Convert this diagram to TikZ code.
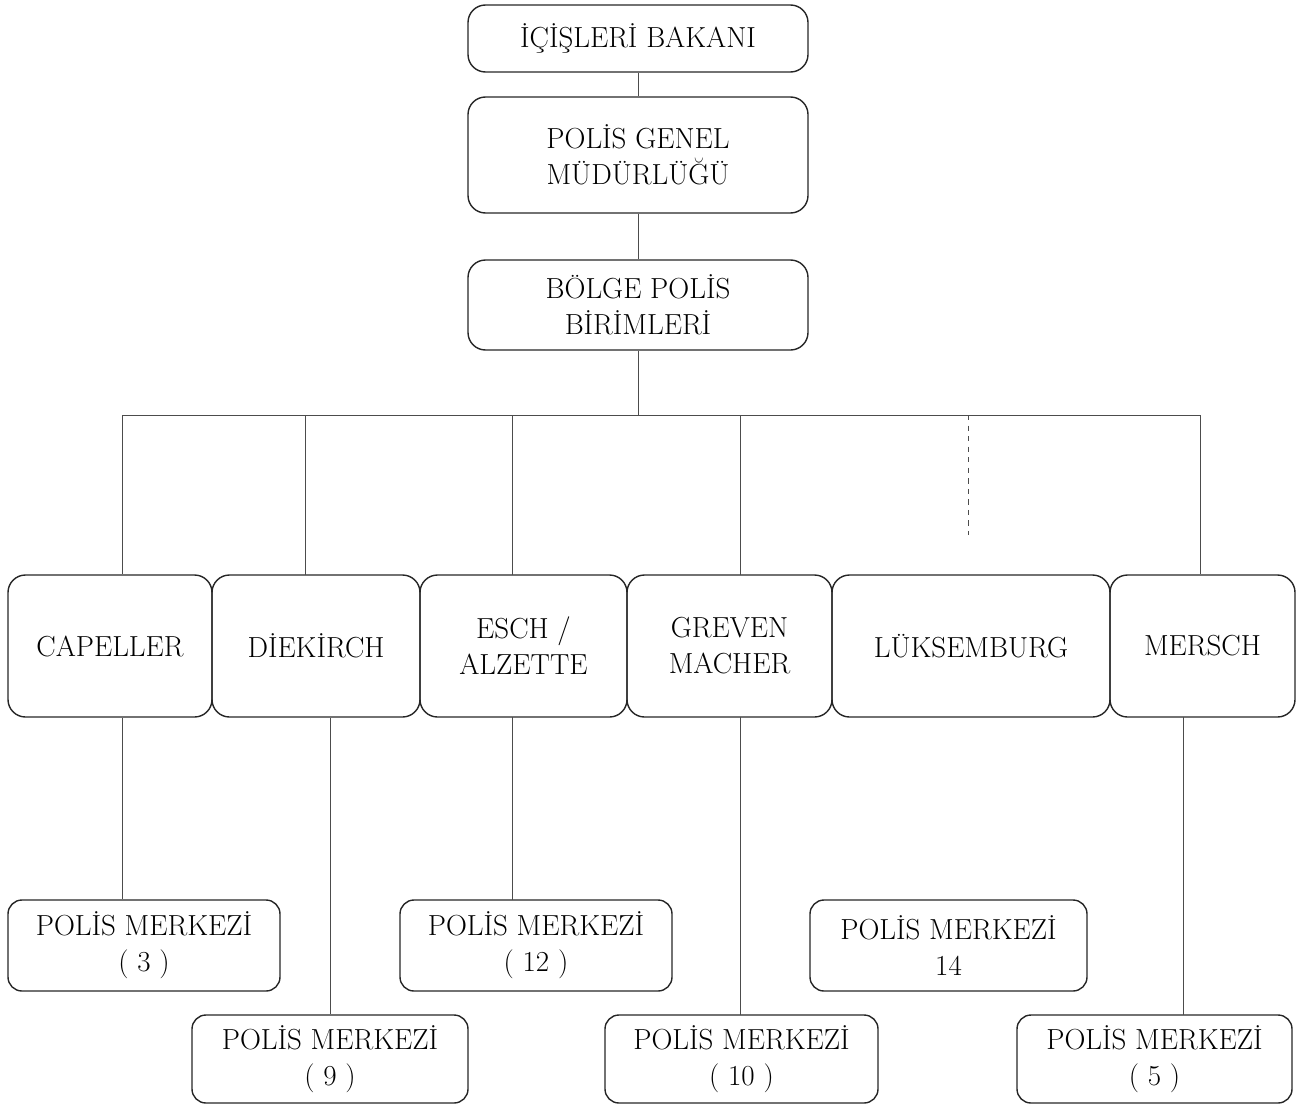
\documentclass[tikz,border=0pt]{standalone}
\usepackage{fontspec}
\usepackage{tikz}

\begin{document}
\begin{tikzpicture}[
		unitbox/.style={draw=black!85, line width=0.8pt, rounded corners=0.35cm, align=center, inner sep=0pt, font=\fontsize{16.5}{20.5}\selectfont},
		link/.style={draw=black!70, line width=0.5pt}
	]
		\useasboundingbox (0, 0) rectangle (26.16, -22.14);

		% top of the chain
		\node[unitbox, minimum width=6.8cm, minimum height=1.34cm] at (12.76, -0.77) (bakan) {İÇİŞLERİ BAKANI};
		\node[unitbox, minimum width=6.8cm, minimum height=2.32cm] at (12.76, -3.10) (genel) {POLİS GENEL\\MÜDÜRLÜĞÜ};
		\node[unitbox, minimum width=6.8cm, minimum height=1.80cm] at (12.76, -6.10) (bolge) {BÖLGE POLİS\\BİRİMLERİ};

		\draw[link] (bakan) -- (genel);
		\draw[link] (genel) -- (bolge);

		% regions
		\node[unitbox, minimum width=4.08cm, minimum height=2.84cm] at (2.20, -12.92) (capeller) {CAPELLER};
		\node[unitbox, minimum width=4.16cm, minimum height=2.84cm] at (6.32, -12.92) (diekirch) {DİEKİRCH};
		\node[unitbox, minimum width=4.14cm, minimum height=2.84cm] at (10.47, -12.92) (esch) {ESCH /\\ALZETTE};
		\node[unitbox, minimum width=4.10cm, minimum height=2.84cm] at (14.59, -12.92) (greven) {GREVEN\\MACHER};
		\node[unitbox, minimum width=5.56cm, minimum height=2.84cm] at (19.42, -12.92) (luks) {LÜKSEMBURG};
		\node[unitbox, minimum width=3.70cm, minimum height=2.84cm] at (24.05, -12.92) (mersch) {MERSCH};

		\coordinate (busL) at (2.44, -8.30);
		\coordinate (busR) at (24.00, -8.30);
		\coordinate (lukstop) at (19.36, -10.70);

		\draw[link] (bolge.south) -- (bolge.south |- busL);
		\draw[link] (busL) -- (busR);
		\draw[link] (busL) -- (busL |- capeller.north);
		\draw[link] (6.10, -8.30) -- (6.10, -11.50);
		\draw[link] (10.24, -8.30) -- (10.24, -11.50);
		\draw[link] (14.80, -8.30) -- (14.80, -11.50);
		\draw[link, dashed] (lukstop |- busL) -- (lukstop);
		\draw[link] (busR) -- (busR |- mersch.north);

		% police stations
		\node[unitbox, rounded corners=0.28cm, minimum width=5.44cm, minimum height=1.82cm] at (2.88, -18.91) (pm3) {POLİS MERKEZİ\\( 3 )};
		\node[unitbox, rounded corners=0.28cm, minimum width=5.44cm, minimum height=1.82cm] at (10.72, -18.91) (pm12) {POLİS MERKEZİ\\( 12 )};
		\node[unitbox, rounded corners=0.28cm, minimum width=5.54cm, minimum height=1.82cm] at (18.97, -18.91) (pm14) {POLİS MERKEZİ\\14};
		\node[unitbox, rounded corners=0.28cm, minimum width=5.52cm, minimum height=1.76cm] at (6.60, -21.18) (pm9) {POLİS MERKEZİ\\( 9 )};
		\node[unitbox, rounded corners=0.28cm, minimum width=5.46cm, minimum height=1.76cm] at (14.83, -21.18) (pm10) {POLİS MERKEZİ\\( 10 )};
		\node[unitbox, rounded corners=0.28cm, minimum width=5.50cm, minimum height=1.76cm] at (23.09, -21.18) (pm5) {POLİS MERKEZİ\\( 5 )};

		\draw[link] (busL |- capeller.south) -- (busL |- pm3.north);
		\draw[link] (pm9.north |- diekirch.south) -- (pm9.north);
		\draw[link] (10.24, -14.34) -- (10.24 , -18.00);
		\draw[link] (14.80, -14.34) -- (14.80, -20.30);
		\draw[link] (23.66, -14.34) -- (23.66, -20.30);
\end{tikzpicture}
\end{document}
